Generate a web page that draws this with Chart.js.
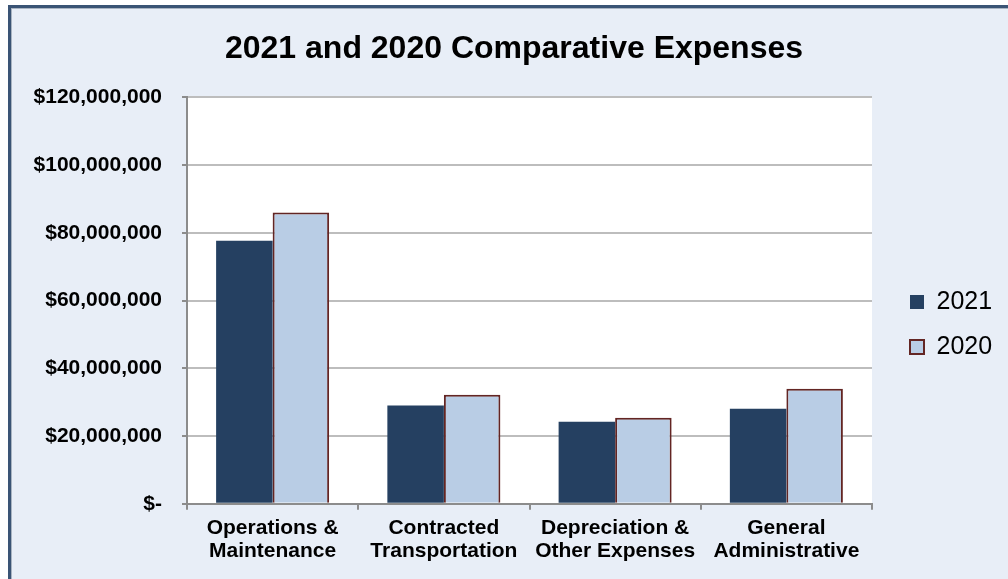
<!DOCTYPE html>
<html>
<head>
<meta charset="utf-8">
<script src="https://cdn.jsdelivr.net/npm/chart.js@4.4.1/dist/chart.umd.min.js"></script>
<style>
  body { margin: 0; background: #ffffff; }
  #frame {
    position: absolute; left: 8px; top: 5px; width: 1010px; height: 590px;
    background: #e8eef7; border: 3px solid #3a5475; box-sizing: border-box;
    box-shadow: inset 1px 1px 0 #a9b4c2;
  }
  #wrap { position: absolute; left: 0; top: 0; width: 1008px; height: 579px; }
</style>
</head>
<body>
<div id="frame"></div>
<div id="wrap"><canvas id="chart" width="1008" height="579"></canvas></div>
<script>
// chart data
const categories = [
  ["Operations &", "Maintenance"],
  ["Contracted", "Transportation"],
  ["Depreciation &", "Other Expenses"],
  ["General", "Administrative"]
];
const seriesNames = ["2021", "2020"];
const values2021 = [77700000, 29000000, 24200000, 28100000];
const values2020 = [86000000, 32200000, 25400000, 34000000];
const yMax = 120000000;
const yStep = 20000000;

const FONT = "'Liberation Sans', Arial, sans-serif";

// white plot area
const plotBackground = {
  id: "plotBackground",
  beforeDraw(chart) {
    const { ctx, chartArea } = chart;
    ctx.save();
    ctx.fillStyle = "#ffffff";
    ctx.fillRect(chartArea.left, chartArea.top, chartArea.right - chartArea.left, chartArea.bottom - chartArea.top);
    ctx.restore();
  }
};

// fixed legend width + placement next to the plot
const legendPlace = {
  id: "legendPlace",
  beforeLayout(chart) {
    const lg = chart.legend;
    if (lg && !lg._patched) {
      const fit = lg.fit;
      lg.fit = function () { fit.call(this); this.width = 136; };
      lg._patched = true;
    }
  },
  afterLayout(chart) {
    const lg = chart.legend;
    const pad = lg.options.labels.padding;
    const w = lg.right - lg.left;
    lg.left = 910 - pad; lg.right = lg.left + w;
    const h = lg.bottom - lg.top;
    lg.top = 302 - pad - 12.5; lg.bottom = lg.top + h;
    const tb = chart.titleBlock;
    tb.left += 10; tb.right += 10;
  }
};

new Chart(document.getElementById("chart"), {
  type: "bar",
  data: {
    labels: categories,
    datasets: [
      {
        label: seriesNames[0],
        data: values2021,
        backgroundColor: "#254061",
        borderColor: "#254061",
        borderWidth: 0
      },
      {
        label: seriesNames[1],
        data: values2020,
        backgroundColor: "#b9cde5",
        borderColor: "#632523",
        borderWidth: 2
      }
    ]
  },
  options: {
    responsive: false,
    animation: false,
    datasets: { bar: { categoryPercentage: 0.66, barPercentage: 1.0 } },
    layout: { padding: { left: 0, right: 0, top: 0, bottom: 9 } },
    plugins: {
      title: {
        display: true,
        text: "2021 and 2020 Comparative Expenses",
        color: "#000000",
        font: { family: FONT, size: 32, weight: "bold", lineHeight: 1.2 },
        padding: { top: 30, bottom: 29 }
      },
      legend: {
        position: "right",
        align: "start",
        labels: {
          color: "#000000",
          font: { family: FONT, size: 25 },
          boxWidth: 14,
          boxHeight: 14,
          padding: 20
        }
      },
      tooltip: { enabled: false }
    },
    scales: {
      x: {
        grid: { offset: true, drawOnChartArea: false, drawTicks: true, tickLength: 6, color: "#8c8c8c", lineWidth: 2 },
        border: { display: true, color: "#8c8c8c", width: 2 },
        ticks: {
          color: "#000000",
          padding: 7,
          maxRotation: 0,
          font: { family: FONT, size: 21, weight: "bold", lineHeight: 1.1 }
        }
      },
      y: {
        min: 0,
        max: yMax,
        afterFit(scale) { scale.width = 187; },
        grid: { color: "#bdbdbd", lineWidth: 2, drawTicks: true, tickLength: 5, tickColor: "#8c8c8c" },
        border: { display: true, color: "#8c8c8c", width: 2 },
        ticks: {
          stepSize: yStep,
          color: "#000000",
          padding: 20,
          font: { family: FONT, size: 21, weight: "bold" },
          callback: (v) => (v === 0 ? "$-" : "$" + v.toLocaleString("en-US"))
        }
      }
    }
  },
  plugins: [plotBackground, legendPlace]
});
</script>
</body>
</html>
